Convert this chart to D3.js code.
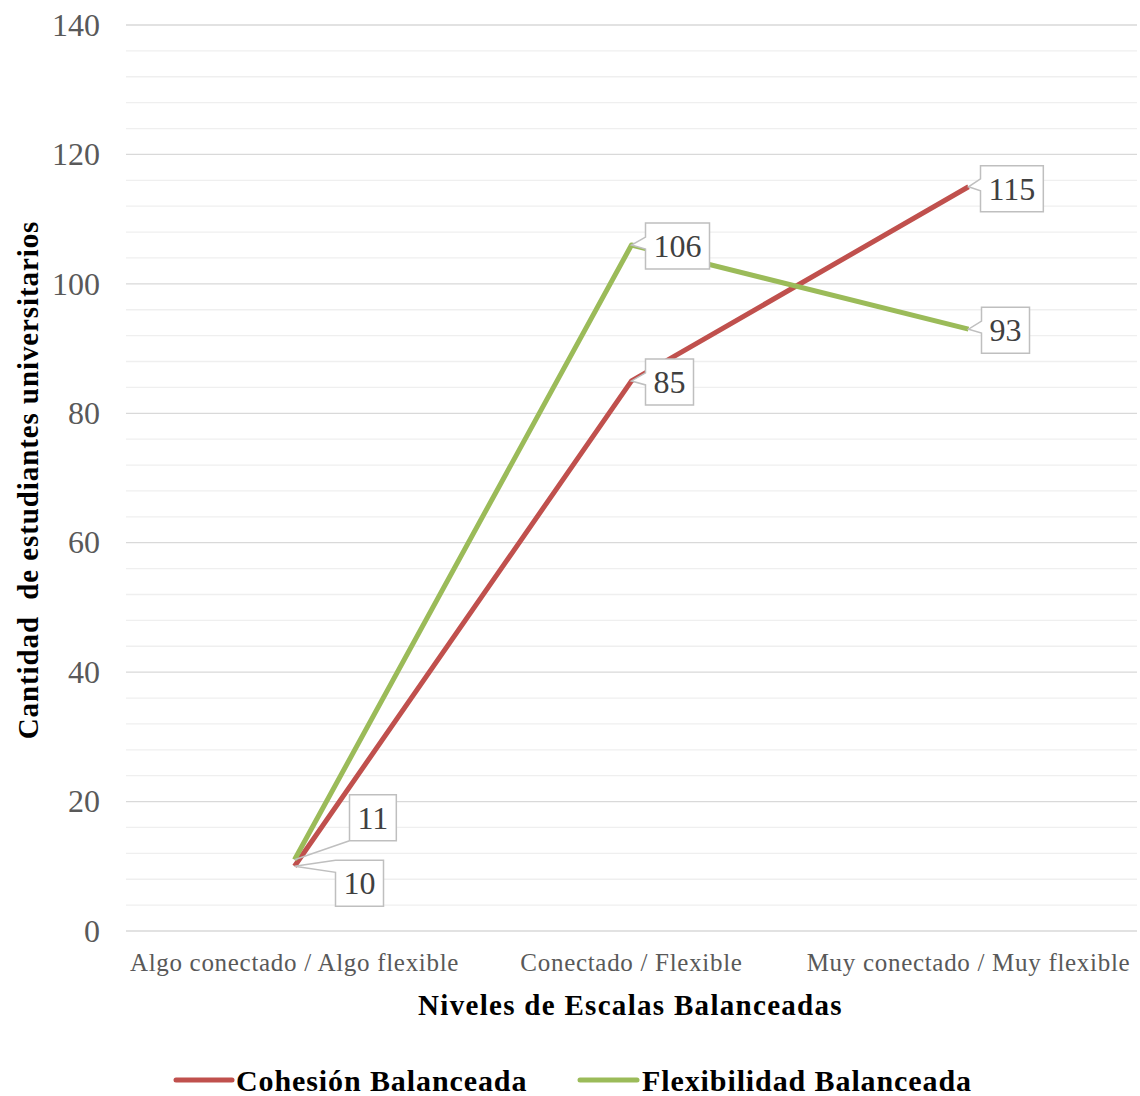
<!DOCTYPE html>
<html><head><meta charset="utf-8">
<script src="https://cdn.jsdelivr.net/npm/d3@7"></script>
<style>body{margin:0;background:#fff}svg{display:block}text{font-family:"Liberation Serif","Times New Roman",serif}</style>
</head><body><svg id="c" width="1140" height="1096"></svg>
<script>
const categories = ["Algo conectado / Algo flexible", "Conectado / Flexible", "Muy conectado / Muy flexible"];
const seriesNames = ["Cohesión Balanceada", "Flexibilidad Balanceada"];
const cohesion = [10, 85, 115];
const flexibilidad = [11, 106, 93];
const yTicks = [0, 20, 40, 60, 80, 100, 120, 140];
const xTitle = "Niveles de Escalas Balanceadas";
const yTitle = "Cantidad  de estudiantes universitarios";

const colors = ["#c0504d", "#9bbb59"];
const series = [cohesion, flexibilidad];
// label box offsets relative to point (layout only)
const labelOffsets = [
  [[41, -6], [14, -22], [12, -21]],
  [[55, -65], [14, -22], [13, -22]]
];

const svg = d3.select("#c");
const L = 126, R = 1137, T = 25, B = 931;
const x = d3.scaleBand().domain(categories).range([L, R]);
const y = d3.scaleLinear().domain([0, 140]).range([B, T]);
const cx = c => x(c) + x.bandwidth() / 2;

// minor grid
const minor = d3.range(0, 141, 4).filter(v => v % 20 !== 0);
svg.append("g").selectAll("line").data(minor).join("line")
  .attr("x1", L).attr("x2", R).attr("y1", d => y(d)).attr("y2", d => y(d))
  .attr("stroke", "#efefef").attr("stroke-width", 1.3);
// major grid
svg.append("g").selectAll("line").data(yTicks).join("line")
  .attr("x1", L).attr("x2", R).attr("y1", d => y(d)).attr("y2", d => y(d))
  .attr("stroke", "#d9d9d9").attr("stroke-width", 1.3);

// y axis labels
const yAxis = svg.append("g").attr("transform", `translate(${L},0)`)
  .call(d3.axisLeft(y).tickValues(yTicks).tickSize(0).tickPadding(26));
yAxis.select(".domain").remove();
yAxis.selectAll("text").attr("font-size", 32).attr("fill", "#595959")
  .attr("font-family", "Liberation Serif");

// x axis labels
const xAxis = svg.append("g").attr("transform", `translate(0,${B})`)
  .call(d3.axisBottom(x).tickSize(0).tickPadding(27));
xAxis.select(".domain").remove();
xAxis.selectAll("text").attr("font-size", 25).attr("fill", "#595959")
  .attr("letter-spacing", 0.7)
  .attr("font-family", "Liberation Serif").attr("dy", "0.5em");

// titles
svg.append("text").attr("x", (L + R) / 2 - 1).attr("y", 1015).attr("text-anchor", "middle")
  .attr("font-size", 29).attr("font-weight", "bold").attr("fill", "#000")
  .attr("letter-spacing", 1.3).text(xTitle);
svg.append("text").attr("transform", `translate(38,${480}) rotate(-90)`).attr("text-anchor", "middle")
  .attr("font-size", 29).attr("font-weight", "bold").attr("fill", "#000")
  .attr("letter-spacing", 0.9)
  .style("white-space", "pre").text(yTitle);

// lines
const line = d3.line().x((d, i) => cx(categories[i])).y(d => y(d));
series.forEach((s, k) => {
  svg.append("path").datum(s).attr("d", line).attr("fill", "none")
    .attr("stroke", colors[k]).attr("stroke-width", 5).attr("stroke-linejoin", "round");
});

// labels (callouts)
series.forEach((s, k) => {
  s.forEach((v, i) => {
    const px = cx(categories[i]), py = y(v);
    const [ox, oy] = labelOffsets[k][i];
    const g = svg.append("g");
    const t = g.append("text").attr("font-size", 32).attr("fill", "#404040")
      .attr("text-anchor", "middle").text(v);
    const bb = t.node().getBBox();
    const w = bb.width + 16, h = 46;
    const bx = px + ox, by = py + oy;
    t.attr("x", bx + w / 2).attr("y", by + h / 2 + 11);
    const y1 = Math.max(by, Math.min(by + h, py - 8)), y2 = Math.min(by + h, y1 + 12);
    const p = `M${bx},${by}H${bx + w}V${by + h}H${bx}V${y2}L${px},${py}L${bx},${y1}Z`;
    g.insert("path", "text").attr("d", p).attr("fill", "#fff")
      .attr("stroke", "#bfbfbf").attr("stroke-width", 1.5).attr("stroke-linejoin", "miter");
  });
});

// legend
const legend = [[176, 232, 236], [580, 637, 642]];
seriesNames.forEach((n, k) => {
  const [a, b, tx] = legend[k];
  svg.append("line").attr("x1", a).attr("x2", b).attr("y1", 1080).attr("y2", 1080)
    .attr("stroke", colors[k]).attr("stroke-width", 5).attr("stroke-linecap", "round");
  svg.append("text").attr("x", tx).attr("y", 1091).attr("font-size", 30)
    .attr("letter-spacing", 0.9)
    .attr("font-weight", "bold").attr("fill", "#000").text(n);
});
</script></body></html>
